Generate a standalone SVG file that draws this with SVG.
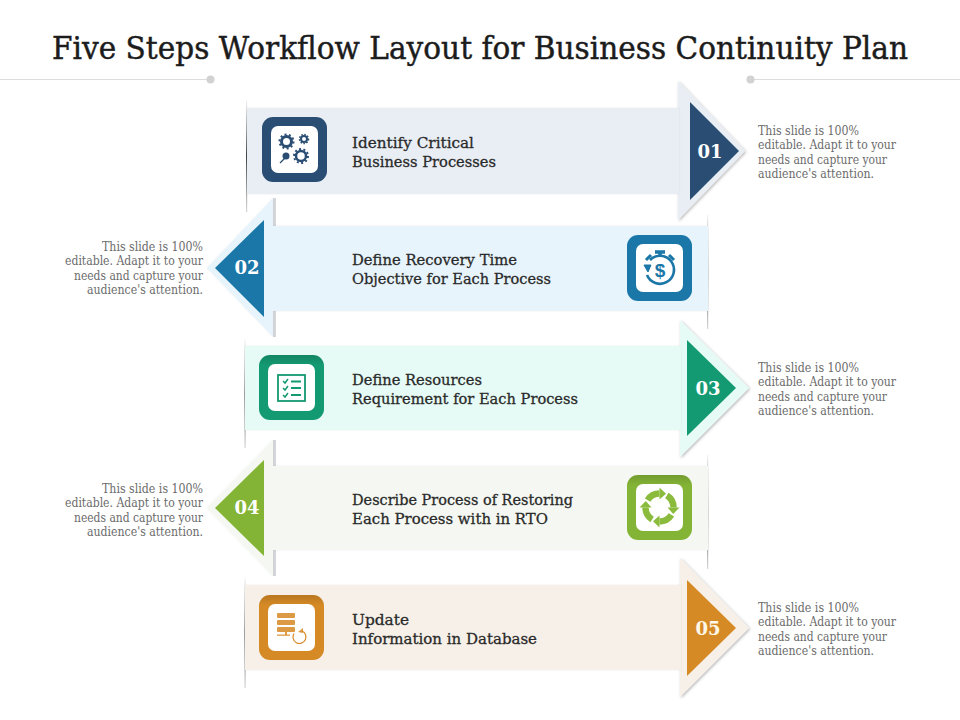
<svg xmlns="http://www.w3.org/2000/svg" width="960" height="720" viewBox="0 0 960 720">
<style>
text{font-family:"DejaVu Serif","Liberation Serif",serif}
.title{font-size:31px;fill:#1c1c1c;stroke:#1c1c1c;stroke-width:.45px}
.lab{font-size:15.5px;fill:#2a2a2a;stroke:#2a2a2a;stroke-width:.3px}
.side{font-size:12px;fill:#6b6b6b}
.num{font-size:18px;font-weight:700;fill:#fff;text-anchor:middle}
.rule{stroke:#dcdcdc;stroke-width:1.2;fill:none}
.dot{fill:#d2d2d2}
.white{fill:#fff}
.shadow{filter:url(#sh)}
.soft{filter:url(#sh2)}
.stub{stroke:#d4d6da;stroke-width:3;fill:none}
.edgeline{fill:url(#edge)}
.shade{fill:url(#topshade)}
</style>
<defs>
<filter id="sh" x="-20%" y="-10%" width="150%" height="125%"><feDropShadow dx="1" dy="1" stdDeviation="1.5" flood-color="#000" flood-opacity=".3"/></filter>
<filter id="sh2" x="-10%" y="-10%" width="120%" height="120%"><feDropShadow dx="0" dy="0" stdDeviation="1" flood-color="#000" flood-opacity=".07"/></filter>
<linearGradient id="edge" x1="0" y1="0" x2="0" y2="1"><stop offset="0" stop-color="#777" stop-opacity=".08"/><stop offset=".5" stop-color="#444"/><stop offset="1" stop-color="#777" stop-opacity=".3"/></linearGradient>
<linearGradient id="topshade" x1="0" y1="0" x2="0" y2="1"><stop offset="0" stop-color="#000" stop-opacity=".14"/><stop offset=".16" stop-color="#000" stop-opacity="0"/></linearGradient>
<g id="seg"><path d="M7.400 -11.900A14 14 0 0 1 14 0" fill="none" stroke="#8abb3c" stroke-width="6.500"/><path d="M8 0H20L13.700 6.500Z" fill="#8abb3c"/></g>
</defs>
<rect width="960" height="720" fill="#fff"/>
<g id="title"><text class="title" x="52" y="58.500" textLength="856" lengthAdjust="spacingAndGlyphs">Five Steps Workflow Layout for Business Continuity Plan</text>
<path class="rule" d="M0 79.500H210M751 79.500H960"/><circle class="dot" cx="210.500" cy="79.500" r="4"/><circle class="dot" cx="750.500" cy="79.500" r="4"/></g>

<g id="connectors">
<rect class="edgeline" x="246" y="100" width="1.200" height="112"/>
<rect class="edgeline" x="707" y="215" width="1.200" height="114"/>
<rect class="edgeline" x="244.500" y="340" width="1.200" height="108"/>
<rect class="edgeline" x="707" y="455" width="1.200" height="114"/>
<rect class="edgeline" x="244.500" y="578" width="1.200" height="110"/>
</g>

<g id="step1">
<path class="shadow" fill="#e9eef5" d="M678 81L745 151L678 220Z"/>
<rect class="soft" x="247" y="108" width="432" height="86" fill="#e9eef5"/>
<path fill="#2a4d73" d="M690 102L739 151L690 200Z"/>
<text class="num" x="710" y="157.500">01</text>
<rect x="262" y="117" width="65" height="65" rx="11" fill="#2a4d73"/><rect x="271" y="126" width="47" height="47" rx="7" class="white"/>
<g fill="none" stroke="#2a4d73"><circle cx="286.500" cy="141.500" r="5" stroke-width="3"/><circle cx="286.500" cy="141.500" r="7" stroke-width="2" stroke-dasharray="2 2.400"/><circle cx="304" cy="139" r="3" stroke-width="2"/><circle cx="304" cy="139" r="4.500" stroke-width="1.500" stroke-dasharray="1.500 1.500"/><circle cx="301" cy="156" r="5" stroke-width="2.500"/><circle cx="301" cy="156" r="7" stroke-width="2" stroke-dasharray="2 2.400"/><path d="M280 163L285 158" stroke-width="1.200"/></g><circle cx="286" cy="156" r="3.500" fill="#2a4d73"/>
<text class="lab" x="352" y="147.500" textLength="122" lengthAdjust="spacingAndGlyphs">Identify Critical</text>
<text class="lab" x="352" y="166.500" textLength="144" lengthAdjust="spacingAndGlyphs">Business Processes</text>
<g class="side"><text x="758" y="135" textLength="101" lengthAdjust="spacingAndGlyphs">This slide is 100%</text><text x="758" y="149" textLength="138" lengthAdjust="spacingAndGlyphs">editable. Adapt it to your</text><text x="758" y="164" textLength="129" lengthAdjust="spacingAndGlyphs">needs and capture your</text><text x="758" y="178" textLength="116" lengthAdjust="spacingAndGlyphs">audience's attention.</text></g>
</g>

<g id="step2">
<path class="stub" d="M274.500 198V226M274.500 311V337"/>
<path class="soft" fill="#e8f4fb" d="M708 226H273V198L207 268L273 337V311H708Z"/>
<path fill="#1a77a8" d="M264 220L215 268L264 317Z"/>
<text class="num" x="247" y="274">02</text>
<rect x="627" y="235" width="65" height="66" rx="11" fill="#1a77a8"/><rect x="636" y="244" width="47" height="48" rx="7" class="white"/>
<g fill="none" stroke="#1a77a8"><path d="M650 260A14 14 0 1 1 647 275" stroke-width="2.600"/><path d="M655 252h10M660 252v4" stroke-width="3.500"/><path d="M646 260l5-5M674 260l-5-5" stroke-width="3"/><path d="M644 265l7 0-3 7z" fill="#1a77a8" stroke-width="1"/></g>
<text x="660" y="277" font-size="19" font-weight="700" fill="#1a77a8" text-anchor="middle" style="font-family:'Liberation Sans',sans-serif">$</text>
<text class="lab" x="352" y="264.500" textLength="165" lengthAdjust="spacingAndGlyphs">Define Recovery Time</text>
<text class="lab" x="352" y="283.500" textLength="199" lengthAdjust="spacingAndGlyphs">Objective for Each Process</text>
<g class="side" text-anchor="end"><text x="203" y="251" textLength="101" lengthAdjust="spacingAndGlyphs">This slide is 100%</text><text x="203" y="265" textLength="138" lengthAdjust="spacingAndGlyphs">editable. Adapt it to your</text><text x="203" y="280" textLength="129" lengthAdjust="spacingAndGlyphs">needs and capture your</text><text x="203" y="294" textLength="116" lengthAdjust="spacingAndGlyphs">audience's attention.</text></g>
</g>

<g id="step3">
<path class="shadow" fill="#e6fbf5" d="M680 320L749 388L680 457Z"/>
<rect class="soft" x="245" y="346" width="436" height="84" fill="#e6fbf5"/>
<path fill="#149a72" d="M687 340L736 388L687 436Z"/>
<text class="num" x="708" y="394.500">03</text>
<rect x="259" y="355" width="65" height="65" rx="11" fill="#149a72"/><rect class="shade" x="259" y="355" width="65" height="65" rx="11"/><rect x="268" y="364" width="47" height="47" rx="7" class="white"/>
<g fill="none" stroke="#149a72"><rect x="278" y="375" width="27" height="26" stroke-width="1.800"/><path d="M283 381l2 2 3-4M283 388l2 2 3-4M283 395l2 2 3-4" stroke-width="1.500"/><path d="M291 381.500h10M291 388h10M291 395h10" stroke-width="2"/></g>
<text class="lab" x="352" y="384.500" textLength="130" lengthAdjust="spacingAndGlyphs">Define Resources</text>
<text class="lab" x="352" y="403.500" textLength="226" lengthAdjust="spacingAndGlyphs">Requirement for Each Process</text>
<g class="side"><text x="758" y="371.500" textLength="101" lengthAdjust="spacingAndGlyphs">This slide is 100%</text><text x="758" y="386" textLength="138" lengthAdjust="spacingAndGlyphs">editable. Adapt it to your</text><text x="758" y="401" textLength="129" lengthAdjust="spacingAndGlyphs">needs and capture your</text><text x="758" y="415" textLength="116" lengthAdjust="spacingAndGlyphs">audience's attention.</text></g>
</g>

<g id="step4">
<path class="stub" d="M274.500 440V466M274.500 550V576"/>
<path class="soft" fill="#f5f8f2" d="M708 466H273V440L207 508L273 576V550H708Z"/>
<path fill="#84b436" d="M264 460L215 508L264 556Z"/>
<text class="num" x="247" y="514">04</text>
<rect x="627" y="475" width="65" height="65" rx="11" fill="#84b436"/><rect class="shade" x="627" y="475" width="65" height="65" rx="11"/><rect x="636" y="484" width="47" height="47" rx="7" class="white"/>
<g transform="translate(659.500 507.500)"><use href="#seg"/><use href="#seg" transform="rotate(90)"/><use href="#seg" transform="rotate(180)"/><use href="#seg" transform="rotate(270)"/></g>
<text class="lab" x="352" y="504.500" textLength="221" lengthAdjust="spacingAndGlyphs">Describe Process of Restoring</text>
<text class="lab" x="352" y="523.500" textLength="196" lengthAdjust="spacingAndGlyphs">Each Process with in RTO</text>
<g class="side" text-anchor="end"><text x="203" y="493" textLength="101" lengthAdjust="spacingAndGlyphs">This slide is 100%</text><text x="203" y="507" textLength="138" lengthAdjust="spacingAndGlyphs">editable. Adapt it to your</text><text x="203" y="522" textLength="129" lengthAdjust="spacingAndGlyphs">needs and capture your</text><text x="203" y="536" textLength="116" lengthAdjust="spacingAndGlyphs">audience's attention.</text></g>
</g>

<g id="step5">
<path class="shadow" fill="#f7f0e8" d="M680 558L749 628L680 697Z"/>
<rect class="soft" x="245" y="585" width="436" height="85" fill="#f7f0e8"/>
<path fill="#d68a26" d="M687 580L736 628L687 676Z"/>
<text class="num" x="708" y="634.500" style="fill:#fff8e8">05</text>
<rect x="259" y="595" width="65" height="65" rx="11" fill="#d68a26"/><rect class="shade" x="259" y="595" width="65" height="65" rx="11"/><rect x="268" y="604" width="47" height="47" rx="7" class="white"/>
<g fill="#dd9a45"><rect x="277" y="613" width="18" height="5" rx="1"/><rect x="277" y="620" width="18" height="5" rx="1"/><rect x="277" y="627" width="18" height="5" rx="1"/><rect x="285" y="632" width="2" height="3"/><rect x="277" y="634.500" width="13" height="1.300"/><path d="M298 632l5-4v5z"/></g>
<path fill="none" stroke="#d68a26" stroke-width="1.200" d="M302 631A6.500 6.500 0 1 1 294 633.500"/>
<text class="lab" x="352" y="624.500" textLength="57" lengthAdjust="spacingAndGlyphs">Update</text>
<text class="lab" x="352" y="643.500" textLength="185" lengthAdjust="spacingAndGlyphs">Information in Database</text>
<g class="side"><text x="758" y="611.500" textLength="101" lengthAdjust="spacingAndGlyphs">This slide is 100%</text><text x="758" y="626" textLength="138" lengthAdjust="spacingAndGlyphs">editable. Adapt it to your</text><text x="758" y="641" textLength="129" lengthAdjust="spacingAndGlyphs">needs and capture your</text><text x="758" y="655" textLength="116" lengthAdjust="spacingAndGlyphs">audience's attention.</text></g>
</g>
</svg>
